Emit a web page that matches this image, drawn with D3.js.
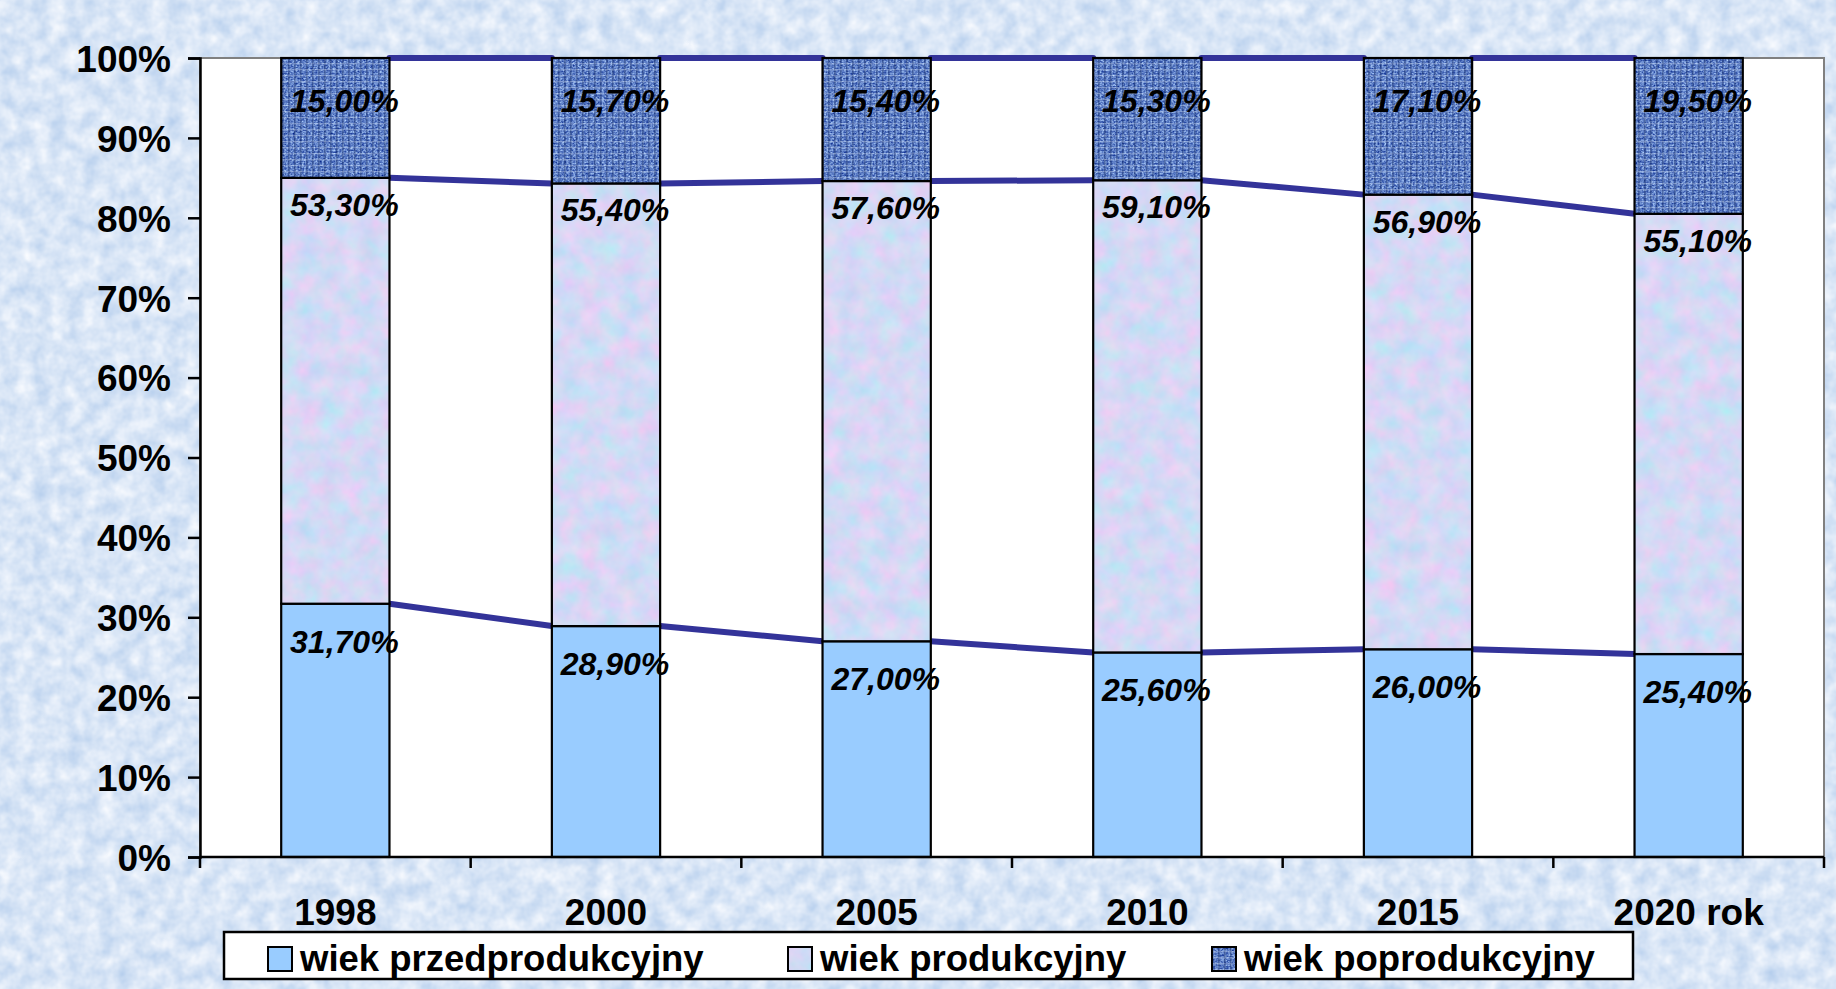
<!DOCTYPE html>
<html>
<head>
<meta charset="utf-8">
<script src="https://cdn.jsdelivr.net/npm/d3@7"></script>
<style>
  html, body { margin: 0; padding: 0; background: #d8e8f8; }
  svg { display: block; }
  text { font-family: "Liberation Sans", Arial, sans-serif; font-weight: bold; }
  filter { color-interpolation-filters: sRGB; }
</style>
</head>
<body>
<script>
// chart values
var years = ["1998", "2000", "2005", "2010", "2015", "2020 rok"];
var przed = [31.7, 28.9, 27.0, 25.6, 26.0, 25.4];     // wiek przedprodukcyjny
var prod = [53.3, 55.4, 57.6, 59.1, 56.9, 55.1];      // wiek produkcyjny
var poprod = [15.0, 15.7, 15.4, 15.3, 17.1, 19.5];    // wiek poprodukcyjny
var seriesNames = ["wiek przedprodukcyjny", "wiek produkcyjny", "wiek poprodukcyjny"];
var yTicks = [0, 10, 20, 30, 40, 50, 60, 70, 80, 90, 100];

var W = 1836, H = 989;
// plot area edges (note: "top" is reserved by window, so prefixed names)
var plot_left = 200, plot_right = 1824, plot_top = 58, plot_bottom = 857;
var line_color = "#333399";

var svg = d3.select("body").append("svg").attr("width", W).attr("height", H);
var defs = svg.append("defs");

// background mottle
var f_bg = defs.append("filter").attr("id", "f_bg").attr("x", 0).attr("y", 0).attr("width", 1).attr("height", 1)
  .attr("color-interpolation-filters", "sRGB");
f_bg.append("feTurbulence").attr("type", "fractalNoise").attr("baseFrequency", "0.06").attr("numOctaves", 3).attr("seed", 4);
f_bg.append("feColorMatrix").attr("type", "matrix")
  .attr("values", "0.3 0 0 0 0.70  0.2 0 0 0 0.80  0.08 0 0 0 0.925  0 0 0 0 1");

// pastel texture for the middle series
var f_pastel = defs.append("filter").attr("id", "f_pastel").attr("x", 0).attr("y", 0).attr("width", 1).attr("height", 1)
  .attr("color-interpolation-filters", "sRGB");
f_pastel.append("feTurbulence").attr("type", "fractalNoise").attr("baseFrequency", "0.05").attr("numOctaves", 3).attr("seed", 7);
f_pastel.append("feColorMatrix").attr("type", "matrix")
  .attr("values", "0.3 0 0 0 0.68  -0.1 0.1 0 0 0.85  0 0 0.05 0 0.935  0 0 0 0 1");

// denim texture for the top series
var f_denim = defs.append("filter").attr("id", "f_denim").attr("x", 0).attr("y", 0).attr("width", 1).attr("height", 1)
  .attr("color-interpolation-filters", "sRGB");
f_denim.append("feTurbulence").attr("type", "fractalNoise").attr("baseFrequency", "0.45 0.6").attr("numOctaves", 2).attr("seed", 2);
f_denim.append("feColorMatrix").attr("type", "matrix")
  .attr("values", "0.9 0 0 0 -0.08  0.9 0 0 0 0.05  0.6 0 0 0 0.48  0 0 0 0 1");

var grid = defs.append("pattern").attr("id", "grid").attr("patternUnits", "userSpaceOnUse")
  .attr("width", 6).attr("height", 6);
grid.append("rect").attr("x", 0).attr("y", 0).attr("width", 1.6).attr("height", 6).attr("fill", "#1c3470").attr("opacity", 0.5);
grid.append("rect").attr("x", 0).attr("y", 3).attr("width", 6).attr("height", 1.3).attr("fill", "#dfe8f8").attr("opacity", 0.3);

var p_pastel = defs.append("pattern").attr("id", "pastel").attr("patternUnits", "userSpaceOnUse")
  .attr("width", W).attr("height", H);
p_pastel.append("rect").attr("width", W).attr("height", H).attr("filter", "url(#f_pastel)");

var p_denim = defs.append("pattern").attr("id", "denim").attr("patternUnits", "userSpaceOnUse")
  .attr("width", W).attr("height", H);
p_denim.append("rect").attr("width", W).attr("height", H).attr("filter", "url(#f_denim)");
p_denim.append("rect").attr("width", W).attr("height", H).attr("fill", "url(#grid)");

var fills = ["#99ccff", "url(#pastel)", "url(#denim)"];

// page background
svg.append("rect").attr("width", W).attr("height", H).attr("filter", "url(#f_bg)");

// scales
var x = d3.scaleBand().domain(years).range([plot_left, plot_right]).paddingInner(0.6).paddingOuter(0.3);
var y = d3.scaleLinear().domain([0, 100]).range([plot_bottom, plot_top]);

// plot area
svg.append("rect").attr("x", plot_left).attr("y", plot_top)
  .attr("width", plot_right - plot_left).attr("height", plot_bottom - plot_top)
  .attr("fill", "#ffffff").attr("stroke", "#808080").attr("stroke-width", 2);

// stacked data
var rows = years.map(function(d, i) { return { year: d, a: przed[i], b: prod[i], c: poprod[i] }; });
var stack = d3.stack().keys(["a", "b", "c"]);
var layers = stack(rows);

// series lines between bars
var lines_g = svg.append("g");
layers.forEach(function(layer) {
  for (var i = 0; i < layer.length - 1; i++) {
    lines_g.append("line")
      .attr("x1", x(years[i]) + x.bandwidth())
      .attr("y1", y(layer[i][1]))
      .attr("x2", x(years[i + 1]))
      .attr("y2", y(layer[i + 1][1]))
      .attr("stroke", line_color)
      .attr("stroke-width", 6)
      .attr("stroke-linecap", "round");
  }
});

// bars
var bars_g = svg.append("g");
layers.forEach(function(layer, k) {
  bars_g.append("g").selectAll("rect")
    .data(layer)
    .join("rect")
    .attr("x", function(d) { return x(d.data.year); })
    .attr("y", function(d) { return y(d[1]); })
    .attr("width", x.bandwidth())
    .attr("height", function(d) { return y(d[0]) - y(d[1]); })
    .attr("fill", fills[k])
    .attr("stroke", "#000")
    .attr("stroke-width", 2.2);
});

// data labels, placed a little below the top of each segment
var label_offset = [49, 38, 54];
layers.forEach(function(layer, k) {
  svg.append("g").selectAll("text")
    .data(layer)
    .join("text")
    .attr("x", function(d) { return x(d.data.year) + x.bandwidth() / 2 + 9; })
    .attr("y", function(d) { return y(d[1]) + label_offset[k]; })
    .attr("text-anchor", "middle")
    .style("font-size", "32px")
    .style("font-style", "italic")
    .style("fill", "#000")
    .text(function(d) { return (d[1] - d[0]).toFixed(2).replace(".", ",") + "%"; });
});

// y axis
var y_axis = svg.append("g").attr("transform", "translate(" + plot_left + ",0)")
  .call(d3.axisLeft(y).tickValues(yTicks).tickFormat(function(d) { return d + "%"; }).tickSize(12).tickPadding(17));
y_axis.select(".domain").attr("stroke", "#000").attr("stroke-width", 2.5);
y_axis.selectAll(".tick line").attr("stroke", "#000").attr("stroke-width", 2.5);
y_axis.selectAll(".tick text").style("font-size", "37px").style("font-family", "'Liberation Sans', Arial, sans-serif")
  .style("font-weight", "bold").attr("fill", "#000").attr("dy", "0.36em");

// x axis: ticks on category boundaries
var step = x.step();
var bounds = years.map(function(d) { return x(d) - step * x.paddingOuter(); });
bounds.push(plot_right);
var x_g = svg.append("g");
x_g.append("line").attr("x1", plot_left).attr("x2", plot_right).attr("y1", plot_bottom).attr("y2", plot_bottom)
  .attr("stroke", "#000").attr("stroke-width", 2.5);
x_g.selectAll("line.tick").data(bounds).join("line").attr("class", "tick")
  .attr("x1", function(d) { return d; }).attr("x2", function(d) { return d; })
  .attr("y1", plot_bottom).attr("y2", plot_bottom + 11)
  .attr("stroke", "#000").attr("stroke-width", 2.5);
x_g.selectAll("text").data(years).join("text")
  .attr("x", function(d) { return x(d) + x.bandwidth() / 2; })
  .attr("y", 925)
  .attr("text-anchor", "middle")
  .style("font-size", "37px")
  .text(function(d) { return d; });

// legend
var legend = svg.append("g");
legend.append("rect").attr("x", 224).attr("y", 932).attr("width", 1409).attr("height", 47)
  .attr("fill", "#fff").attr("stroke", "#000").attr("stroke-width", 2.5);
var legend_x = [268, 788, 1212];
seriesNames.forEach(function(name, i) {
  legend.append("rect").attr("x", legend_x[i]).attr("y", 947).attr("width", 24).attr("height", 24)
    .attr("fill", fills[i]).attr("stroke", "#000").attr("stroke-width", 2);
  legend.append("text").attr("x", legend_x[i] + 32).attr("y", 971)
    .style("font-size", "36.5px").text(name);
});
</script>
</body>
</html>
